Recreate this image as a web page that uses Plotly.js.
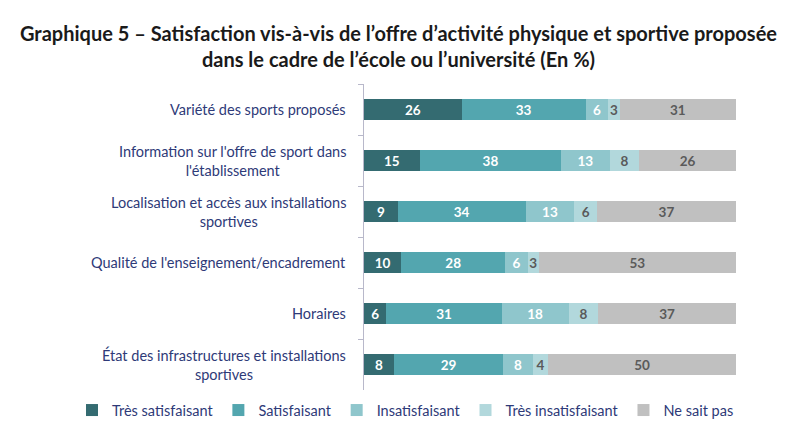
<!DOCTYPE html>
<html>
<head>
<meta charset="utf-8">
<script src="https://cdn.plot.ly/plotly-3.0.1.min.js"></script>
<style>
html,body{margin:0;padding:0;background:#fff;}
#chart{width:797px;height:428px;}
</style>
</head>
<body>
<div id="chart"></div>
<script>
const categories = [
  "Variété des sports proposés",
  "Information sur l'offre de sport dans<br>l'établissement",
  "Localisation et accès aux installations<br>sportives",
  "Qualité de l'enseignement/encadrement",
  "Horaires",
  "État des infrastructures et installations<br>sportives"
];
const seriesNames = ["Très satisfaisant", "Satisfaisant", "Insatisfaisant", "Très insatisfaisant", "Ne sait pas"];
const tresSatisfaisant   = [26, 15, 9, 10, 6, 8];
const satisfaisant       = [33, 38, 34, 28, 31, 29];
const insatisfaisant     = [6, 13, 13, 6, 18, 8];
const tresInsatisfaisant = [3, 8, 6, 3, 8, 4];
const neSaitPas          = [31, 26, 37, 53, 37, 50];

const seriesValues = [tresSatisfaisant, satisfaisant, insatisfaisant, tresInsatisfaisant, neSaitPas];
const colors = ["#346b71", "#53a6af", "#8fc6cc", "#b2d8dc", "#c0c0c0"];
const textColors = ["#ffffff", "#ffffff", "#ffffff", "#5a5a5a", "#5a5a5a"];

const FONT = "Lato, 'Open Sans', sans-serif";
const NAVY = "#2e3a78";

const traces = seriesValues.map((vals, i) => ({
  type: "bar",
  orientation: "h",
  name: seriesNames[i],
  y: categories,
  x: vals,
  text: vals.map(String),
  textposition: "inside",
  insidetextanchor: "middle",
  textangle: 0,
  constraintext: "none",
  textfont: {family: FONT, size: 13.5, color: textColors[i], weight: "bold"},
  marker: {color: colors[i], line: {width: 0}},
  hoverinfo: "skip"
}));

const annotations = categories.map(c => ({
  xref: "paper", yref: "y", x: -0.043, y: c,
  text: c, showarrow: false, xanchor: "right", yanchor: "middle", align: "center",
  font: {family: FONT, size: 14.5, color: NAVY}
}));

const layout = {
  width: 797, height: 428,
  margin: {l: 364, r: 61, t: 84, b: 38, autoexpand: false},
  paper_bgcolor: "#ffffff", plot_bgcolor: "#ffffff",
  barmode: "stack",
  barnorm: "percent",
  bargap: 0.6,
  title: {
    text: "<b>Graphique 5 – Satisfaction vis-à-vis de l’offre d’activité physique et sportive proposée<br>dans le cadre de l’école ou l’université (En %)</b>",
    x: 0.5, xanchor: "center", y: 0.905,
    font: {family: FONT, size: 20, color: "#1a1a1a"}
  },
  xaxis: {range: [0, 100], visible: false},
  yaxis: {
    autorange: "reversed", showticklabels: false,
    showline: true, linecolor: "#b8b8ca", linewidth: 1.5,
    ticks: "outside", tickson: "boundaries", ticklen: 5, tickcolor: "#b8b8ca",
    showgrid: false, zeroline: false
  },
  showlegend: true,
  legend: {
    orientation: "h", x: -0.785, xanchor: "left", y: -0.118, yanchor: "bottom",
    font: {family: FONT, size: 14.5, color: NAVY},
    traceorder: "normal"
  },
  annotations: annotations
};

Plotly.newPlot("chart", traces, layout, {displayModeBar: false, staticPlot: true});
</script>
</body>
</html>
